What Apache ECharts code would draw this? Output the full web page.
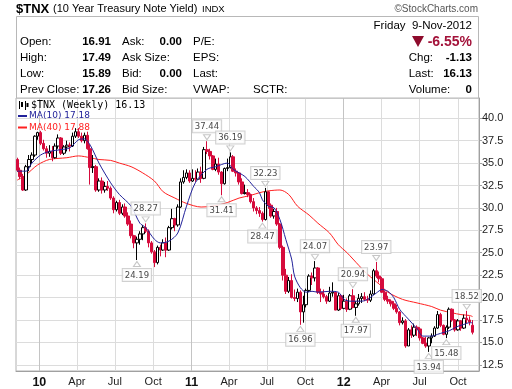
<!DOCTYPE html>
<html><head><meta charset="utf-8">
<script src="https://cdn.jsdelivr.net/npm/echarts@6/dist/echarts.min.js"></script>
<style>html,body{margin:0;padding:0;background:#fff}#c{width:512px;height:389px}</style>
</head><body><div id="c"></div>
<script>
// Weekly bars: Monday of first week (bars are dated by week start)
const firstWeek = [2009, 10, 9];
const opens  = [35.4,34.2,33.5,32.0,34.6,35.4,35.9,38.0,38.4,37.2,36.6,36.1,36.3,35.6,36.9,37.8,36.1,36.8,37.0,36.9,
  38.0,38.5,38.0,37.5,38.1,36.6,34.5,34.6,32.0,33.0,32.0,32.4,32.2,31.1,29.8,30.6,29.4,30.1,29.1,28.2,
  26.9,26.1,26.5,27.1,27.8,27.4,26.1,25.1,23.9,25.6,25.3,26.1,25.3,27.8,28.8,28.1,30.1,32.9,33.4,33.9,
  33.0,33.3,33.2,34.0,33.3,36.5,36.3,35.8,34.3,34.9,34.0,32.7,34.4,34.5,35.7,34.1,33.9,32.9,31.6,31.7,
  31.5,30.7,30.0,29.7,29.4,28.7,31.8,30.3,29.1,29.6,28.2,25.6,22.5,20.7,21.9,20.0,19.9,20.6,18.4,19.2,
  20.8,22.4,22.2,23.3,20.6,20.4,20.1,19.6,20.5,20.6,18.6,20.2,18.8,19.6,18.7,20.2,18.9,19.3,19.9,20.1,
  19.8,19.7,20.4,23.0,22.4,22.1,20.6,19.8,19.6,19.3,18.8,18.4,17.2,17.4,14.6,16.4,15.8,16.7,16.5,15.5,
  14.9,14.6,15.5,15.7,16.6,18.1,16.9,15.9,16.7,18.7,17.5,16.4,17.4,16.6,17.7,17.5,16.91];
const highs  = [35.6,34.5,33.8,34.8,35.9,36.2,38.1,38.5,38.6,37.6,36.9,37.0,36.9,37.2,38.2,37.9,37.0,37.5,37.3,38.4,
  38.9,38.9,38.4,38.4,38.5,37.1,35.9,34.8,33.3,33.4,32.9,33.0,32.4,31.3,30.8,30.9,30.4,30.5,29.5,28.6,
  27.0,26.8,27.4,28.1,28.27,27.6,26.3,25.3,25.8,25.9,26.5,26.7,28.0,29.9,28.9,30.4,33.3,34.2,34.3,34.2,
  34.3,34.2,34.4,34.6,36.8,37.44,36.6,35.9,35.5,35.6,34.1,34.5,35.5,36.19,35.9,34.4,34.0,33.3,32.6,32.1,
  31.6,31.1,30.2,30.1,29.6,32.23,31.9,30.5,29.9,30.0,28.3,25.8,23.2,22.3,22.6,20.9,21.0,20.8,20.2,21.0,
  22.6,22.8,24.07,23.4,21.0,20.9,20.3,21.2,21.7,20.7,20.5,20.4,20.3,19.9,20.4,20.94,19.6,20.4,20.5,20.6,
  20.2,20.8,23.2,23.97,22.9,22.3,20.8,20.2,19.8,19.6,19.2,18.5,17.8,17.6,16.6,16.9,17.1,16.9,16.7,15.6,
  15.6,15.6,16.0,16.8,18.5,18.3,17.0,16.9,18.9,18.8,17.6,17.6,17.5,18.1,18.52,17.9,17.49];
const lows   = [34.0,33.2,31.9,31.9,34.1,35.0,35.7,37.6,37.0,36.4,35.6,35.7,35.2,35.5,36.6,35.9,35.9,36.3,36.3,36.8,
  37.8,37.8,37.3,37.2,36.5,32.6,33.9,31.8,31.8,31.6,31.7,31.9,30.9,29.4,29.6,29.2,29.2,28.9,28.0,26.6,
  25.5,24.19,25.9,26.4,27.2,25.6,24.9,23.4,23.7,24.6,25.2,24.5,25.2,27.6,27.4,27.9,30.0,32.7,33.2,32.8,
  32.9,32.9,33.1,32.8,33.2,36.0,35.4,34.2,34.1,33.7,31.41,32.6,34.1,34.4,34.0,33.5,32.6,31.5,31.5,31.2,
  30.5,29.6,29.3,29.0,28.47,28.6,29.9,28.9,28.8,28.0,25.4,21.9,20.4,20.5,19.9,19.6,19.5,16.96,17.2,18.9,
  20.6,21.4,21.8,20.4,19.5,19.9,19.3,19.5,20.1,18.6,18.5,18.6,18.7,18.4,18.6,18.8,17.97,19.1,19.4,19.6,
  19.4,19.5,20.3,22.2,21.7,20.5,19.6,19.3,19.0,18.6,18.2,16.9,17.0,14.4,14.6,15.5,15.6,15.7,15.2,14.8,
  14.4,13.94,14.9,15.6,16.5,16.7,15.8,15.48,16.5,17.3,16.2,16.3,16.3,16.5,17.1,16.9,15.89];
const closes = [34.2,33.5,32.0,34.6,35.4,35.9,38.0,38.4,37.2,36.6,36.1,36.3,35.6,36.9,37.8,36.1,36.8,37.0,36.9,38.0,
  38.5,38.0,37.5,38.1,36.6,34.5,34.6,32.0,33.0,32.0,32.4,32.2,31.1,29.8,30.6,29.4,30.1,29.1,28.2,26.9,
  26.1,26.5,27.1,27.8,27.4,26.1,25.1,23.9,25.6,25.3,26.1,25.3,27.8,28.8,28.1,30.1,32.9,33.4,33.9,33.0,
  33.3,33.2,34.0,33.3,36.5,36.3,35.8,34.3,34.9,34.0,32.7,34.4,34.5,35.7,34.1,33.9,32.9,31.6,31.7,31.5,
  30.7,30.0,29.7,29.4,28.7,31.8,30.3,29.1,29.6,28.2,25.6,22.5,20.7,21.9,20.0,19.9,20.6,18.4,19.2,20.8,
  22.4,22.2,23.3,20.6,20.4,20.1,19.6,20.5,20.6,18.6,20.2,18.8,19.6,18.7,20.2,18.9,19.3,19.9,20.1,19.8,
  19.7,20.4,23.0,22.4,22.1,20.6,19.8,19.6,19.3,18.8,18.4,17.2,17.4,14.6,16.4,15.8,16.7,16.5,15.5,14.9,
  14.6,15.5,15.7,16.6,18.1,16.9,15.9,16.7,18.7,17.5,16.4,17.4,16.6,17.7,17.5,17.26,16.13];

// Moving averages (week index, value)
const ma10Weeks = [0,3,5,8,11,15,18,21,23,25,28,32,35,39,42,44,47,49,52,55,58,61,65,68,72,74,78,81,83,84,86,88,90,92,94,95,97,99,101,103,107,110,112,114,118,120,123,125,127,129,131,134,137,139,142,144,146,148,151,153,155,156];
const ma10Vals  = [34.1,34.1,35.0,35.9,36.3,36.5,36.7,37.6,37.7,37.0,35.0,32.8,31.5,30.2,28.3,27.8,26.5,26.1,26.3,27.2,30.2,32.8,34.3,34.6,35.0,34.3,33.5,32.4,31.7,30.9,30.2,30.0,28.7,26.5,24.3,22.4,21.1,20.6,20.7,20.6,20.7,20.6,19.8,19.6,19.6,19.8,20.5,20.9,20.7,20.0,18.7,17.6,16.5,15.7,15.7,15.9,16.1,16.3,16.8,17.0,17.2,17.18];
const ma40Weeks = [0,3,7,11,17,21,25,28,32,35,39,43,47,50,54,58,63,67,72,76,80,83,86,90,93,96,100,103,107,110,113,117,120,124,127,132,137,142,145,149,152,155,156];
const ma40Vals  = [33.1,33.7,34.8,35.4,35.6,35.8,35.6,35.4,35.3,35.0,34.6,33.9,33.0,31.8,31.1,30.5,30.1,30.2,30.6,31.1,31.4,31.7,31.9,32.0,31.5,30.2,29.2,28.3,27.2,25.9,25.0,23.6,22.6,21.5,20.6,19.8,19.4,19.0,18.6,18.3,18.1,18.0,17.88];

// Callouts (week index, value, side)
const calloutWeeks = [65,73,44,41,70,85,84,102,97,115,116,123,154,147,141];
const calloutVals  = [37.44,36.19,28.27,24.19,31.41,32.23,28.47,24.07,16.96,20.94,17.97,23.97,18.52,15.48,13.94];
const calloutSide  = ['high','high','high','low','low','high','low','high','low','high','low','high','high','low','low'];

// Axis ticks
const xTickDates  = [[2010,0],[2010,3],[2010,6],[2010,9],[2011,0],[2011,3],[2011,6],[2011,9],[2012,0],[2012,3],[2012,6],[2012,9]];
const xTickLabels = ['10','Apr','Jul','Oct','11','Apr','Jul','Oct','12','Apr','Jul','Oct'];
const yTicks = [12.5,15,17.5,20,22.5,25,27.5,30,32.5,35,37.5,40];

const RED = '#d60b3c', BLACK = '#000';
const DAY = 86400000;
const weekTime = i => Date.UTC(firstWeek[0], firstWeek[1], firstWeek[2] + 7 * i) / DAY;
const xTicks = xTickDates.map(d => Date.UTC(d[0], d[1], 1) / DAY);

const candleData = closes.map((c, i) => {
  const o = opens[i];
  const prev = i > 0 ? closes[i - 1] : o;
  const edge = c >= prev ? BLACK : RED;
  const st = c >= o ? { color: '#fff', borderColor: edge } : { color0: edge, borderColor0: edge };
  return { value: [weekTime(i), o, c, lows[i], highs[i]], itemStyle: st };
});
const ma10Data = ma10Weeks.map((w, k) => [weekTime(w), ma10Vals[k]]);
const ma40Data = ma40Weeks.map((w, k) => [weekTime(w), ma40Vals[k]]);
const calloutData = calloutWeeks.map((w, k) => {
  const hi = calloutSide[k] === 'high';
  return {
    value: [weekTime(w), calloutVals[k]],
    symbolRotate: hi ? 180 : 0,
    symbolOffset: [0, hi ? -4 : 4],
    label: { position: hi ? 'top' : 'bottom' }
  };
});

const F = 'Liberation Sans, Arial, sans-serif';
const T = (x, y, text, font, fill, align, zl) => ({ type: 'text', x: x, y: y, z: 100, zlevel: zl || 0,
  style: { text: text, font: font, fill: fill || '#000', align: align || 'left', verticalAlign: 'middle' } });
const reg = '11.5px ' + F, bold = 'bold 11.5px ' + F;

const graphics = [
  { type: 'rect', shape: { x: 16.5, y: 16.5, width: 462, height: 81.5 }, style: { fill: '#fff', stroke: '#b8b8b8', lineWidth: 1 }, z: 90 },
  T(16, 9, '$TNX', 'bold 13px ' + F),
  T(53, 9, '(10 Year Treasury Note Yield)', '11px ' + F),
  T(202, 9.5, 'INDX', '9.5px ' + F),
  T(478, 9, '\u00a9StockCharts.com', '10px ' + F, '#555', 'right'),
  T(472, 25.7, 'Friday  9-Nov-2012', reg, '#000', 'right'),
  T(20, 42.3, 'Open:', reg), T(111, 42.3, '16.91', bold, '#000', 'right'),
  T(122, 42.3, 'Ask:', reg), T(182, 42.3, '0.00', bold, '#000', 'right'), T(193, 42.3, 'P/E:', reg),
  T(20, 58.3, 'High:', reg), T(111, 58.3, '17.49', bold, '#000', 'right'),
  T(122, 58.3, 'Ask Size:', reg), T(193, 58.3, 'EPS:', reg),
  T(20, 74, 'Low:', reg), T(111, 74, '15.89', bold, '#000', 'right'),
  T(122, 74, 'Bid:', reg), T(182, 74, '0.00', bold, '#000', 'right'), T(193, 74, 'Last:', reg),
  T(20, 90, 'Prev Close:', reg), T(111, 90, '17.26', bold, '#000', 'right'),
  T(122, 90, 'Bid Size:', reg), T(193, 90, 'VWAP:', reg), T(253, 90, 'SCTR:', reg),
  { type: 'polygon', shape: { points: [[412, 36], [424, 36], [418, 47]] }, style: { fill: '#8e0b2c' }, z: 100 },
  T(472, 42.3, '-6.55%', 'bold 14px ' + F, '#a3123a', 'right'),
  T(408.7, 58.3, 'Chg:', reg), T(472, 58.3, '-1.13', bold, '#000', 'right'),
  T(408.7, 74, 'Last:', reg), T(472, 74, '16.13', bold, '#000', 'right'),
  T(408.7, 90, 'Volume:', reg), T(472, 90, '0', bold, '#000', 'right'),
  { type: 'group', z: 100, zlevel: 1, children: [
    { type: 'line', shape: { x1: 19.5, y1: 101, x2: 19.5, y2: 109 }, style: { stroke: '#000', lineWidth: 1 } },
    { type: 'rect', shape: { x: 21, y: 102, width: 2, height: 5 }, style: { fill: '#000' } },
    { type: 'line', shape: { x1: 25.5, y1: 101, x2: 25.5, y2: 110 }, style: { stroke: '#000', lineWidth: 1 } },
    { type: 'rect', shape: { x: 26.5, y: 103, width: 2, height: 4 }, style: { fill: '#000' } }
  ] },
  T(31, 105.5, '$TNX (Weekly) 16.13', '10px DejaVu Sans Mono, monospace', '#000', 'left', 1),
  { type: 'line', z: 100, zlevel: 1, shape: { x1: 18, y1: 116, x2: 27, y2: 116 }, style: { stroke: '#22229a', lineWidth: 2 } },
  T(29, 116, 'MA(10) 17.18', '9px DejaVu Sans, sans-serif', '#22229a', 'left', 1),
  { type: 'line', z: 100, zlevel: 1, shape: { x1: 18, y1: 127.5, x2: 27, y2: 127.5 }, style: { stroke: '#ff2020', lineWidth: 2 } },
  T(29, 127.5, 'MA(40) 17.88', '9px DejaVu Sans, sans-serif', '#ff2020', 'left', 1)
];

const chart = echarts.init(document.getElementById('c'));
chart.setOption({
  animation: false,
  backgroundColor: '#fff',
  grid: { left: 16, right: 33, top: 98, bottom: 17, show: true, borderColor: '#b0b0b0', borderWidth: 1 },
  xAxis: {
    type: 'value',
    min: Date.UTC(2009, 10, 6) / DAY,
    max: Date.UTC(2012, 10, 20, 10) / DAY,
    axisLine: { show: true, onZero: false, lineStyle: { color: '#a0a0a0' } },
    axisTick: { show: false, customValues: xTicks },
    axisLabel: {
      customValues: xTicks, margin: 5, color: '#222', fontSize: 11, fontFamily: F,
      formatter: v => { let k = -1; xTicks.forEach((t, j) => { if (Math.abs(t - v) < 0.5) k = j; }); const s = k >= 0 ? xTickLabels[k] : ''; return /^\d+$/.test(s) ? '{y|' + s + '}' : s; },
      rich: { y: { fontWeight: 'bold', fontSize: 12.5, fontFamily: F, color: '#111' } }
    },
    splitLine: { show: true, lineStyle: { color: ['#c4c4c4', '#dcdcdc', '#dcdcdc', '#dcdcdc'], width: 1 } }
  },
  yAxis: {
    type: 'value', position: 'right', min: 11.81, max: 42.26,
    axisLine: { show: true, lineStyle: { color: '#a0a0a0' } },
    axisTick: { show: true, customValues: yTicks, length: 3, lineStyle: { color: '#a0a0a0' } },
    axisLabel: { customValues: yTicks, formatter: v => v.toFixed(1), fontSize: 11, color: '#222', margin: 3, fontFamily: F },
    splitLine: { show: true, lineStyle: { color: '#dcdcdc', width: 1 } }
  },
  series: [
    { type: 'line', data: ma40Data, showSymbol: false, smooth: 0.3, lineStyle: { color: '#ff2020', width: 1 }, z: 3 },
    { type: 'candlestick', data: candleData, barWidth: 3, z: 4,
      itemStyle: { color: '#fff', color0: RED, borderColor: BLACK, borderColor0: RED, borderWidth: 1 } },
    { type: 'line', data: ma10Data, showSymbol: false, smooth: 0.3, lineStyle: { color: '#22229a', width: 1 }, z: 5 },
    { type: 'scatter', data: calloutData, symbol: 'triangle', symbolSize: [7, 5], z: 6,
      itemStyle: { color: '#fff', borderColor: '#b8b8b8', borderWidth: 1 },
      label: { show: true, distance: 2, formatter: p => p.value[1].toFixed(2), fontSize: 8.5, fontFamily: 'DejaVu Sans, sans-serif',
        color: '#111', backgroundColor: '#fff', borderColor: '#c4c4c4', borderWidth: 1, padding: [2, 2, 1, 2] } }
  ],
  graphic: graphics
});
</script>
</body></html>
